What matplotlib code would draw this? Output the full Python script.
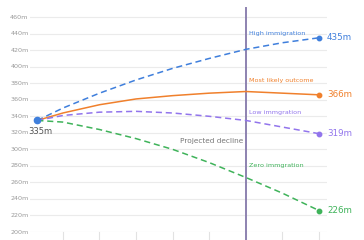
import matplotlib
matplotlib.use('Agg')
import matplotlib.pyplot as plt

# Data (population, millions)
years = [2023, 2030, 2040, 2050, 2060, 2070, 2080, 2090, 2100]
high = [335, 350, 368, 384, 398, 410, 421, 429, 435]
likely = [335, 344, 354, 361, 365, 368, 370, 368, 366]
low = [335, 341, 345, 346, 344, 340, 335, 327, 319]
zero = [335, 333, 324, 313, 300, 284, 266, 247, 226]

y_ticks = [200, 220, 240, 260, 280, 300, 320, 340, 360, 380, 400, 420, 440, 460]
x_ticks = [2030, 2040, 2050, 2060, 2070, 2080, 2090, 2100]
divider_year = 2080

BLUE = '#3f7fdc'
ORANGE = '#f0802c'
PURPLE = '#9275ec'
GREEN = '#3fb35a'

fig = plt.figure(figsize=(3.64, 2.4), dpi=100)
ax = fig.add_axes([30 / 364, 8 / 240, (327 - 30) / 364, (232 - 13) / 240])
ax.set_xlim(2021.0, 2102.2)
ax.set_ylim(200, 465)
ax.axis('off')

# Grid lines and tick labels
for v in y_ticks:
    ax.axhline(v, color='#ebebeb', linewidth=0.8, zorder=0)
    ax.text(2020.6, v, f'{v}m', fontsize=4.6, color='#9a9a9a',
            ha='right', va='center')

# Bottom tick marks
for x in x_ticks:
    ax.plot([x, x], [200, 190], color='#e2e2e2', linewidth=0.8, clip_on=False)

# Divider line
ax.plot([divider_year, divider_year], [190, 471], color='#8d82b0',
        linewidth=1.4, clip_on=False, zorder=3)

# Series
ax.plot(years, high, color=BLUE, linestyle=(0, (4, 2.5)), linewidth=1.1, zorder=4)
ax.plot(years, likely, color=ORANGE, linewidth=1.1, zorder=4)
ax.plot(years, low, color=PURPLE, linestyle=(0, (4, 2.5)), linewidth=1.1, zorder=4)
ax.plot(years, zero, color=GREEN, linestyle=(0, (4, 2.5)), linewidth=1.1, zorder=4)

for vals, col in [(high, BLUE), (likely, ORANGE), (low, PURPLE), (zero, GREEN)]:
    ax.plot(years[-1], vals[-1], 'o', color=col, markersize=3.2, zorder=5)
    ax.text(years[-1] + 2.2, vals[-1], f'{vals[-1]}m', fontsize=6.3,
            color=col, ha='left', va='center')

ax.plot(years[0], high[0], 'o', color=BLUE, markersize=4.5, zorder=6)
ax.text(years[0] - 2.5, 322, f'{high[0]}m', fontsize=6.0,
        color='#555555', ha='left', va='center')

# Scenario labels
ax.text(divider_year + 0.8, 440, 'High immigration', fontsize=4.6, color=BLUE,
        ha='left', va='center')
ax.text(divider_year + 0.8, 383, 'Most likely outcome', fontsize=4.6, color=ORANGE,
        ha='left', va='center')
ax.text(divider_year + 0.8, 344, 'Low immgration', fontsize=4.6, color=PURPLE,
        ha='left', va='center')
ax.text(divider_year + 0.8, 280, 'Zero immgration', fontsize=4.6, color=GREEN,
        ha='left', va='center')
ax.text(divider_year - 0.8, 310, 'Projected decline', fontsize=5.3, color='#777777',
        ha='right', va='center')

fig.savefig('out.png', dpi=100)
